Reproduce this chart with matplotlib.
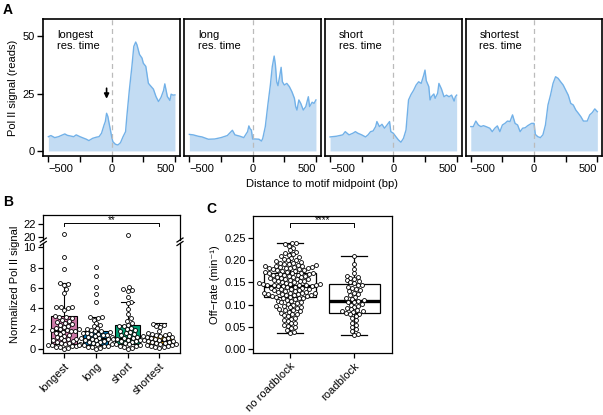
import numpy as np
import matplotlib
matplotlib.use("Agg")
import matplotlib.pyplot as plt
from matplotlib.lines import Line2D
from matplotlib.transforms import ScaledTranslation

plt.rcParams['font.family'] = ['Liberation Sans', 'DejaVu Sans']
plt.rcParams['font.size'] = 8

# ---- panel A: Pol II profiles around motif midpoint
x_longest = [-500,-480,-450,-420,-400,-370,-350,-300,-280,-250,-200,-180,-150,-120,-100,-80,-60,-50,-40,-30,
             -20,-10,0,10,30,50,70,90,110,120,140,160,175,190,200,220,240,250,270,290,300,330,350,370,390,
             410,420,440,460,470,480,490,500]
y_longest = [6.2,6.7,5.8,6.2,6.7,7.4,6.8,6.2,7.0,6.2,5.1,4.5,5.5,6.0,6.2,7.7,11.3,12.8,16.4,15.0,
             12.0,9.2,6.2,4.0,2.9,2.6,3.6,6.2,8.4,15.0,26.6,36.8,45.5,47.4,46.2,42.0,40.4,38.2,36.8,29.5,
             28.8,26.9,23.7,21.5,23.3,26.3,29.2,23.7,22.0,24.7,24.4,24.3,24.4]
x_long = [-500,-470,-430,-400,-350,-300,-250,-200,-160,-140,-100,-70,-40,-30,-20,-10,0,20,50,70,80,100,
          120,140,155,170,180,190,200,215,225,235,250,270,290,310,330,340,350,365,380,400,420,440,450,
          470,485,500]
y_long = [7.2,7.0,6.4,6.1,5.1,5.2,5.8,6.7,9.0,7.0,6.4,5.8,8.4,10.9,9.6,9.1,5.2,5.2,5.1,4.3,5.5,10.6,
          20.0,28.7,36.7,41.3,37.4,30.1,28.4,33.0,36.4,30.1,28.7,29.4,28.0,25.8,22.9,19.3,17.8,22.2,
          20.7,17.8,19.3,23.6,19.3,21.2,20.7,22.2]
x_short = [-500,-450,-400,-380,-350,-320,-300,-280,-250,-220,-200,-180,-160,-140,-130,-110,-90,-70,-50,
           -30,-20,0,20,40,60,80,100,110,120,140,160,180,200,220,240,250,260,280,290,300,320,330,350,
           360,380,400,420,440,460,480,490,500]
y_short = [6.1,6.4,7.0,8.4,7.0,7.7,8.4,7.7,7.0,6.1,7.0,8.4,8.7,10.6,12.8,10.6,11.6,9.9,11.3,12.8,8.4,
           7.7,6.2,4.8,3.8,5.5,9.1,15.7,22.2,24.6,26.4,28.7,30.1,29.4,33.0,35.2,30.6,28.0,22.2,23.6,
           24.8,22.9,25.1,29.4,27.0,23.6,24.3,23.6,24.3,21.7,23.6,24.3]
x_shortest = [-500,-480,-460,-440,-420,-400,-380,-350,-330,-310,-290,-270,-250,-230,-210,-190,-170,-150,
              -130,-110,-90,-70,-50,-20,0,10,30,50,70,90,110,130,150,170,190,210,230,250,270,290,310,
              330,350,370,390,420,440,460,480,500]
y_shortest = [10.6,10.6,13.0,11.3,10.6,11.0,10.6,9.9,8.4,9.9,10.9,8.4,11.3,12.0,13.0,12.8,15.7,12.0,
              11.3,8.4,9.9,10.1,11.0,12.0,12.0,7.2,6.2,5.8,7.0,11.3,20.0,24.3,29.4,32.3,31.6,30.1,28.7,
              26.5,24.3,20.7,20.0,17.8,16.4,14.9,13.0,13.0,15.7,16.7,18.3,17.1]
profile_titles = ["longest\nres. time", "long\nres. time", "short\nres. time", "shortest\nres. time"]

# ---- panel B: normalized Pol II signal per group
groups = ["longest", "long", "short", "shortest"]
sig_longest = [20.5, 9.0, 7.9, 6.45, 6.35, 6.3, 5.85, 5.5, 4.15, 4.1, 4.12, 4.05, 3.85, 3.2, 3.15, 3.1,
               3.05, 2.9, 2.8, 2.7, 2.6, 2.5, 2.4, 2.3, 2.2, 2.1, 2.0, 1.95, 1.9, 1.85, 1.8, 1.75, 1.7,
               1.6, 1.5, 1.4, 1.3, 1.2, 1.1, 1.0, 0.95, 0.9, 0.85, 0.8, 0.7, 0.6, 0.55, 0.5, 0.45, 0.4,
               0.35, 0.3, 0.25, 0.2, 0.15, 0.1, 0.05]
sig_long = [8.03, 7.18, 6.13, 5.41, 4.66, 3.18, 3.1, 3.05, 2.9, 2.6, 2.4, 2.3, 2.1, 2.0, 1.9, 1.8, 1.75,
            1.7, 1.6, 1.55, 1.5, 1.45, 1.4, 1.35, 1.3, 1.2, 1.15, 1.1, 1.05, 1.0, 0.95, 0.9, 0.85,
            0.8, 0.7, 0.65, 0.6, 0.5, 0.45, 0.4, 0.35, 0.3, 0.25, 0.2, 0.15, 0.1, 0.05]
sig_short = [20.3, 6.13, 5.85, 5.8, 5.75, 5.15, 4.65, 4.5, 3.9, 3.44, 3.0, 2.8, 2.6, 2.4, 2.3, 2.25, 2.1,
             2.0, 1.9, 1.8, 1.7, 1.6, 1.5, 1.4, 1.3, 1.2, 1.1, 1.05, 1.0, 0.95, 0.9, 0.85, 0.8, 0.75,
             0.7, 0.6, 0.5, 0.45, 0.4, 0.3, 0.25, 0.2, 0.1, 0.05]
sig_shortest = [2.5, 2.4, 2.3, 2.2, 1.8, 1.6, 1.5, 1.45, 1.4, 1.35, 1.3, 1.25, 1.2, 1.15, 1.1, 1.05, 1.0,
                0.95, 0.9, 0.85, 0.8, 0.75, 0.7, 0.65, 0.6, 0.55, 0.5, 0.45, 0.4, 0.35, 0.3, 0.25, 0.2,
                0.15, 0.1]
b_q1 = [0.5, 0.4, 0.45, 0.45]
b_med = [1.8, 1.0, 1.0, 0.8]
b_q3 = [3.27, 1.77, 2.33, 1.31]
b_whishi = [6.46, 3.18, 4.65, 2.53]
b_colors = ["#CC79A7", "#0072B2", "#009E73", "#E69F00"]

# ---- panel C: off-rates
c_groups = ["no roadblock", "roadblock"]
off_noroad = [0.239, 0.237, 0.236, 0.231, 0.228, 0.222, 0.219, 0.216, 0.213, 0.211, 0.208, 0.206,
              0.204, 0.202, 0.200, 0.199, 0.197, 0.196, 0.194, 0.193, 0.191, 0.190, 0.189, 0.188,
              0.187, 0.186, 0.186, 0.185, 0.184, 0.184, 0.183, 0.182, 0.182, 0.181, 0.180, 0.179,
              0.178, 0.177, 0.176, 0.175, 0.174, 0.173, 0.172, 0.171, 0.171, 0.170, 0.169, 0.168,
              0.167, 0.167, 0.166, 0.165, 0.164, 0.163, 0.162, 0.161, 0.160, 0.159, 0.158, 0.157,
              0.157, 0.156, 0.155, 0.154, 0.153, 0.152, 0.151, 0.150, 0.149, 0.148, 0.147, 0.146,
              0.146, 0.145, 0.144, 0.144, 0.143, 0.143, 0.142, 0.142, 0.141, 0.140, 0.139, 0.138,
              0.137, 0.136, 0.135, 0.134, 0.133, 0.132, 0.131, 0.130, 0.129, 0.128, 0.127, 0.126,
              0.126, 0.125, 0.124, 0.124, 0.123, 0.122, 0.122, 0.121, 0.120, 0.119, 0.118, 0.117,
              0.116, 0.115, 0.114, 0.112, 0.111, 0.109, 0.108, 0.106, 0.105, 0.104, 0.102, 0.100,
              0.098, 0.097, 0.095, 0.094, 0.092, 0.090, 0.088, 0.087, 0.085, 0.084, 0.082, 0.080,
              0.078, 0.076, 0.074, 0.071, 0.068, 0.066, 0.063, 0.060, 0.058, 0.055, 0.053, 0.050,
              0.047, 0.043, 0.039, 0.036]
off_road = [0.209, 0.192, 0.180, 0.170, 0.165, 0.163, 0.160, 0.158, 0.155, 0.152, 0.150, 0.148, 0.145,
            0.143, 0.140, 0.138, 0.135, 0.132, 0.130, 0.127, 0.124, 0.121, 0.118, 0.115, 0.112, 0.110,
            0.109, 0.107, 0.105, 0.102, 0.100, 0.098, 0.095, 0.092, 0.090, 0.088, 0.086, 0.085, 0.083,
            0.082, 0.080, 0.078, 0.075, 0.070, 0.065, 0.060, 0.055, 0.050, 0.045, 0.040, 0.035, 0.032]
c_q1 = [0.1165, 0.082]
c_med = [0.1425, 0.109]
c_q3 = [0.170, 0.1456]
c_whislo = [0.036, 0.032]
c_whishi = [0.239, 0.209]

W, H = 603, 415
fig = plt.figure(figsize=(W / 100, H / 100), dpi=100)


def box(x0, y0, x1, y1):
    return [x0 / W, 1 - y1 / H, (x1 - x0) / W, (y1 - y0) / H]


def swarm(vals, ax, d=4.2):
    # simple beeswarm in pixel space
    bb = ax.get_window_extent()
    xl, yl = ax.get_xlim(), ax.get_ylim()
    sx = bb.width / (xl[1] - xl[0])
    sy = bb.height / (yl[1] - yl[0])
    vals = np.asarray(vals, float)
    out = np.zeros(len(vals))
    placed = []
    for i in np.argsort(vals):
        y = vals[i] * sy
        cands = [0.0]
        for px, py in placed:
            dy = y - py
            if abs(dy) < d:
                dx = np.sqrt(d * d - dy * dy)
                cands += [px + dx, px - dx]
        cands.sort(key=abs)
        for c in cands:
            if all((c - px) ** 2 + (y - py) ** 2 >= d * d - 1e-6 for px, py in placed):
                break
        placed.append((c, y))
        out[i] = c / sx
    return out


# ------------------ A
xs = [x_longest, x_long, x_short, x_shortest]
ys = [y_longest, y_long, y_short, y_shortest]
lefts = [43.3, 184.3, 325, 465.7]
for k in range(4):
    ax = fig.add_axes(box(lefts[k], 19.3, lefts[k] + 136.7, 156))
    ax.fill_between(xs[k], 0, ys[k], color="#c3dcf3", lw=0)
    ax.plot(xs[k], ys[k], color="#72b1e8", lw=1)
    ax.axvline(0, color="#bbbbbb", ls=(0, (4, 3)), lw=0.9)
    ax.set_xlim(-540, 540)
    ax.set_ylim(-2.2, 57.3)
    ax.set_xticks([-500, -250, 0, 250, 500])
    ax.set_xticklabels(["\u2212500", "", "0", "", "500"], fontsize=8)
    # end labels pulled inward so neighbouring panels do not collide
    tl = ax.get_xticklabels()
    tl[0].set_ha("left")
    tl[0].set_transform(tl[0].get_transform() + ScaledTranslation(-5.5 / 100, 0, fig.dpi_scale_trans))
    tl[4].set_ha("right")
    tl[4].set_transform(tl[4].get_transform() + ScaledTranslation(1 / 100, 0, fig.dpi_scale_trans))
    if k == 0:
        ax.set_yticks([0, 25, 50])
        ax.set_ylabel("Pol II signal (reads)", labelpad=3)
        ax.annotate("", xy=(-40, 21.5), xytext=(-40, 28.5),
                    arrowprops=dict(arrowstyle="-|>", color="black", lw=1.2,
                                    mutation_scale=7))
    else:
        ax.set_yticks([])
    ax.text(0.1, 0.92, profile_titles[k], transform=ax.transAxes, va="top", ha="left",
            linespacing=1.15)
    for s in ax.spines.values():
        s.set_linewidth(1.2)
    ax.tick_params(direction="out", length=4, width=1, pad=2)
fig.text(322 / W, 1 - 184 / H, "Distance to motif midpoint (bp)", ha="center", va="center")

# ------------------ B (broken y axis)
axu = fig.add_axes(box(43.3, 215, 180, 240))
axl = fig.add_axes(box(43.3, 243.5, 180, 353.3))
for a in (axu, axl):
    a.set_xlim(0.35, 4.65)
    for s in a.spines.values():
        s.set_linewidth(0.9)
    a.tick_params(direction="out", length=3.5, width=0.9, pad=2)
axu.set_ylim(19.47, 23.5)
axl.set_ylim(-0.42, 10.37)
axu.set_yticks([20, 22])
axl.set_yticks([0, 2, 4, 6, 8, 10])
axu.spines["bottom"].set_visible(False)
axl.spines["top"].set_visible(False)
axu.set_xticks([])

stats = [dict(med=b_med[i], q1=b_q1[i], q3=b_q3[i], whislo=b_q1[i], whishi=b_whishi[i], fliers=[])
         for i in range(4)]
bp = axl.bxp(stats, positions=range(1, 5), widths=0.8, patch_artist=True, showfliers=False,
             capwidths=0.4, manage_ticks=False,
             boxprops=dict(lw=0.8, edgecolor="black"),
             medianprops=dict(color="black", lw=1.5),
             whiskerprops=dict(lw=0.8), capprops=dict(lw=0.8))
for p, c in zip(bp["boxes"], b_colors):
    p.set_facecolor(c)
axl.set_xticks(range(1, 5))
axl.set_xticklabels(groups, rotation=45, ha="right", rotation_mode="anchor")

for i, vals in enumerate([sig_longest, sig_long, sig_short, sig_shortest]):
    off = swarm(vals, axl)
    for a in (axu, axl):
        a.scatter(i + 1 + off, vals, s=8, facecolor="white", edgecolor="black", lw=0.6, zorder=5)

axu.plot([1, 1, 4, 4], [21.7, 22.15, 22.15, 21.7], color="black", lw=0.7)
axu.text(2.5, 21.95, "**", ha="center", va="bottom", fontsize=7)

# break marks
for xb in (43.3, 180):
    for yb in (240, 243.5):
        fig.add_artist(Line2D([(xb - 3) / W, (xb + 3) / W], [1 - (yb + 2) / H, 1 - (yb - 2) / H],
                              color="black", lw=0.9))
fig.text(15 / W, 1 - 284 / H, "Normalized Pol II signal", rotation=90, ha="center", va="center")

# ------------------ C
axc = fig.add_axes(box(253.3, 216, 391.7, 353.3))
axc.set_xlim(0.43, 2.58)
axc.set_ylim(-0.009, 0.2986)
for s in axc.spines.values():
    s.set_linewidth(0.9)
axc.tick_params(direction="out", length=3.5, width=0.9, pad=2)
cstats = [dict(med=c_med[i], q1=c_q1[i], q3=c_q3[i], whislo=c_whislo[i], whishi=c_whishi[i], fliers=[])
          for i in range(2)]
axc.bxp(cstats, positions=[1, 2], widths=0.8, patch_artist=True, showfliers=False, capwidths=0.4,
        manage_ticks=False,
        boxprops=dict(lw=0.9, edgecolor="black", facecolor="white"),
        medianprops=dict(color="black", lw=2.4),
        whiskerprops=dict(lw=0.9), capprops=dict(lw=0.9))
axc.set_yticks([0, 0.05, 0.10, 0.15, 0.20, 0.25])
axc.set_yticklabels(["0.00", "0.05", "0.10", "0.15", "0.20", "0.25"])
axc.set_xticks([1, 2])
axc.set_xticklabels(c_groups, rotation=45, ha="right", rotation_mode="anchor")
for i, vals in enumerate([off_noroad, off_road]):
    off = swarm(vals, axc)
    axc.scatter(i + 1 + off, vals, s=8, facecolor="white", edgecolor="black", lw=0.6, zorder=5)
axc.plot([1, 1, 2, 2], [0.2747, 0.282, 0.282, 0.2747], color="black", lw=0.7)
axc.text(1.5, 0.2785, "****", ha="center", va="bottom", fontsize=7)
fig.text(215 / W, 1 - 284.6 / H, "Off\u2212rate (min\u207b\u00b9)", rotation=90, ha="center", va="center")

# panel letters
fig.text(3 / W, 1 - 3 / H, "A", fontsize=10, fontweight="bold", va="top")
fig.text(3 / W, 1 - 195 / H, "B", fontsize=10, fontweight="bold", va="top")
fig.text(206 / W, 1 - 202 / H, "C", fontsize=10, fontweight="bold", va="top")

fig.savefig("out.png", dpi=100)
